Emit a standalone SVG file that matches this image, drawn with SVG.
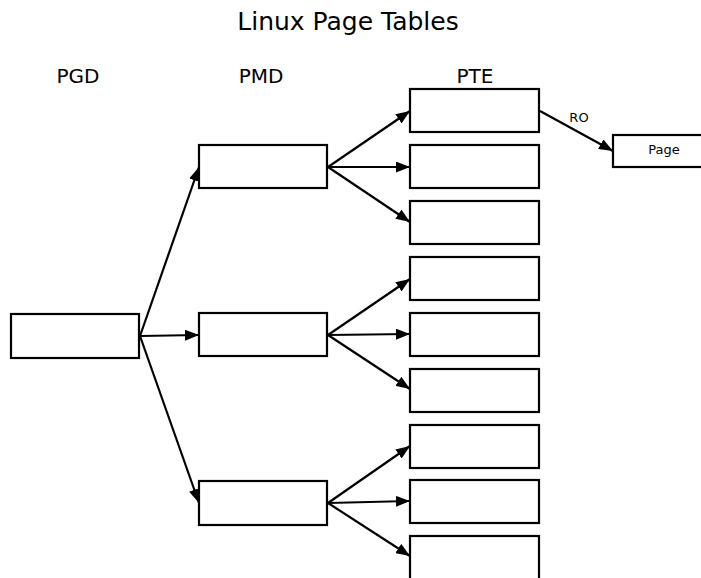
<svg xmlns="http://www.w3.org/2000/svg" width="701" height="578" viewBox="0 0 701 578">
<defs>
<style>
.box{fill:#fff;stroke:#000;stroke-width:2.2}
.ln{stroke:#000;stroke-width:2.2;fill:none;marker-end:url(#ah)}
text{font-family:"DejaVu Sans","Liberation Sans",sans-serif;fill:#000;text-anchor:middle}
.t{font-size:25px}
.h{font-size:20px}
.s{font-size:13px}
</style>
<marker id="ah" viewBox="0 0 14 11" refX="14" refY="5.5" markerWidth="14" markerHeight="11" markerUnits="userSpaceOnUse" orient="auto">
<path d="M0,0 L14,5.5 L0,11 Z" fill="#000"/>
</marker>
</defs>
<rect width="701" height="578" fill="#fff"/>
<text class="t" x="348" y="30">Linux Page Tables</text>
<text class="h" x="78" y="83">PGD</text>
<text class="h" x="261" y="83">PMD</text>
<text class="h" x="475" y="83" font-size="22">PTE</text>
<g id="connectors">
<line class="ln" x1="140" y1="336" x2="199" y2="167"/>
<line class="ln" x1="140" y1="336" x2="199" y2="335"/>
<line class="ln" x1="140" y1="336" x2="199" y2="503"/>
<line class="ln" x1="328" y1="167" x2="410" y2="111"/>
<line class="ln" x1="328" y1="167" x2="410" y2="167"/>
<line class="ln" x1="328" y1="167" x2="410" y2="222"/>
<line class="ln" x1="328" y1="335" x2="410" y2="279"/>
<line class="ln" x1="328" y1="335" x2="410" y2="334"/>
<line class="ln" x1="328" y1="335" x2="410" y2="389"/>
<line class="ln" x1="328" y1="503" x2="410" y2="446"/>
<line class="ln" x1="328" y1="503" x2="410" y2="501"/>
<line class="ln" x1="328" y1="503" x2="410" y2="556"/>
<line class="ln" x1="540" y1="111" x2="613" y2="151"/>
<text class="s" x="579" y="122">RO</text>
</g>
<g id="pgd"><rect class="box" x="11" y="314" width="128" height="44"/></g>
<g id="pmd1"><rect class="box" x="199" y="145" width="128" height="43"/></g>
<g id="pmd2"><rect class="box" x="199" y="313" width="128" height="43"/></g>
<g id="pmd3"><rect class="box" x="199" y="481" width="128" height="44"/></g>
<g id="pte1"><rect class="box" x="410" y="89" width="129" height="43"/></g>
<g id="pte2"><rect class="box" x="410" y="145" width="129" height="43"/></g>
<g id="pte3"><rect class="box" x="410" y="201" width="129" height="43"/></g>
<g id="pte4"><rect class="box" x="410" y="257" width="129" height="43"/></g>
<g id="pte5"><rect class="box" x="410" y="313" width="129" height="43"/></g>
<g id="pte6"><rect class="box" x="410" y="369" width="129" height="43"/></g>
<g id="pte7"><rect class="box" x="410" y="425" width="129" height="43"/></g>
<g id="pte8"><rect class="box" x="410" y="480" width="129" height="43"/></g>
<g id="pte9"><rect class="box" x="410" y="536" width="129" height="44"/></g>
<g id="page"><rect class="box" x="613" y="135" width="100" height="32"/><text class="s" x="664" y="154">Page</text></g>
</svg>
